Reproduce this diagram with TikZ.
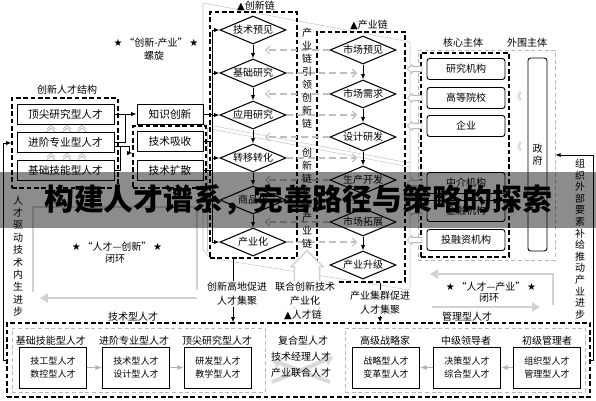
\documentclass[tikz,border=0pt]{standalone}
\usepackage{fontspec}
\setmainfont{Noto Sans CJK SC}
\newfontfamily\sym{DejaVu Sans}
\usetikzlibrary{shapes.geometric,shapes.arrows,arrows.meta,calc}
\begin{document}
\begin{tikzpicture}[x=0.75pt,y=-0.75pt,
  every node/.style={font=\fontsize{7.5}{9}\selectfont, inner sep=0pt},
  sbox/.style={draw, line width=0.7pt, minimum width=72.75pt, minimum height=15pt, font=\fontsize{8}{9}\selectfont},
  kbox/.style={draw, line width=0.7pt, minimum width=49.5pt, minimum height=15pt, font=\fontsize{8}{9}\selectfont},
  cbox/.style={draw, rounded corners=2pt, line width=0.7pt, minimum width=58.5pt, minimum height=15.75pt},
  bbox/.style={draw, line width=0.7pt, minimum width=50.25pt, minimum height=30.75pt, align=center, font=\fontsize{6.8}{9.75}\selectfont},
  dia/.style={draw, diamond, aspect=2.2, line width=0.8pt, minimum width=49.5pt, minimum height=21pt},
  bdash/.style={draw, dash pattern=on 3.5pt off 2pt, line width=0.8pt},
  gdash/.style={draw=gray!55, dash pattern=on 3pt off 2pt, line width=0.5pt},
  ln/.style={line width=0.7pt},
  arr/.style={-{Latex[length=4pt,width=3.2pt]}, line width=0.7pt},
  garr/.style={-{Latex[length=5pt,width=4pt]}, draw=gray!60, line width=1pt},
  gdarr/.style={-{Straight Barb[length=3pt,width=6pt]}, draw=gray!50, dash pattern=on 5pt off 3pt, line width=0.8pt},
  loopl/.style={draw=gray!35, line width=1.9pt},
  looparr/.style={draw=gray!35, line width=1.9pt, -{Triangle[length=6pt,width=7pt]}},
  spiral/.style={draw=gray!45, line width=0.4pt},
  lbl/.style={fill=white, inner sep=1pt, align=center, font=\fontsize{7.5}{10.5}\selectfont},
  vt/.style={align=center},
  hol/.style={single arrow, draw=gray!55, fill=white, line width=0.6pt, minimum height=11pt, minimum width=7pt, single arrow head extend=1.5pt, shape border rotate=180, inner sep=1.6pt},
  chev/.pic={\draw[gray!60, line width=0.5pt] (-4,1)--(0,-2.5)--(4,1) (-4,3.5)--(0,0)--(4,3.5);}
]
\useasboundingbox (0,0) rectangle (596,400);

% spiral
\draw[spiral] (203,3) -- (410,42) -- (410,290);
\draw[spiral] (203,3) -- (203,250) -- (210,258) -- (410,290);
\draw[spiral] (203,124) -- (410,163);
\draw[spiral] (206,128) -- (410,167);
\draw[spiral] (207,128) -- (207,252);

% top-left label
\node (spl) at (156,43) {{\sym ★}\,“创新-产业”\,{\sym ★}};
\node (spl2) at (154,56) {螺旋};

% innovation talent structure
\node (slbl) at (67,90) {创新人才结构};
\node[bdash, minimum width=79.5pt, minimum height=67.5pt] (struct) at (65,143) {};
\node[sbox] (s1) at (65.5,114) {顶尖研究型人才};
\node[sbox] (s2) at (65.5,142) {进阶专业型人才};
\node[sbox] (s3) at (65.5,170) {基础技能型人才};
\foreach \cx in {51,67,82}{\pic at (\cx,128) {chev}; \pic at (\cx,156) {chev};}

\node[kbox] (k1) at (170,114) {知识创新};
\node[bdash, minimum width=54.75pt, minimum height=46.5pt] (tech) at (169.5,157) {};
\node[kbox] (k2) at (170,141) {技术吸收};
\node[kbox] (k3) at (170,170) {技术扩散};

\coordinate (ja) at (125,0);
\coordinate (t1) at (129,146);
\coordinate (t2) at (129,153);
\coordinate (u1) at (120,170);
\draw[arr] (s1.east) -- (k1.west);
\draw[ln] (s2.east) -- (s2.east -| ja) -- (s1.east -| ja);
\draw[arr] (s2.east |- t1) -- (t1) -- (t2) -- (t2 -| tech.west);
\draw[ln] (s3.east) -- (u1) -- (u1 |- t1);

% innovation chain
\node[bdash, minimum width=65.25pt, minimum height=184.5pt] (innov) at (253.5,135) {};
\node (innovl) at (256,6) {{\sym ▲}创新链};
\node[dia] (i1) at (253,30) {技术预见};
\node[dia] (i2) at (253,73) {基础研究};
\node[dia] (i3) at (253,115) {应用研究};
\node[dia] (i4) at (253,158) {转移转化};
\node[dia] (i5) at (253,200) {商品化};
\node[dia] (i6) at (253,242) {产业化};
\coordinate (bx) at (212,0);
\draw[ln] (i1.west -| bx) -- (i6.west -| bx);
\foreach \n in {1,...,6}{\draw[arr] (i\n.west -| bx) -- (i\n.west);}
\draw[ln] (k1.east) -- (k1.east -| bx);
\draw[ln] (k2.east) -- (k2.east -| bx);
\draw[ln] (k3.east) -- (k3.east -| bx);
\draw[arr] (i1.south) -- (i2.north);
\draw[arr] (i2.south) -- (i3.north);
\draw[arr] (i3.south) -- (i4.north);
\draw[arr] (i4.south) -- (i5.north);
\draw[arr] (i5.south) -- (i6.north);

% industry chain
\node[bdash, minimum width=66pt, minimum height=187.5pt] (indus) at (361,157) {};
\node (indusl) at (369,25) {{\sym ▲}产业链};
\node[dia] (m1) at (363,50) {市场预见};
\node[dia] (m2) at (363,94) {市场需求};
\node[dia] (m3) at (363,137) {设计研发};
\node[dia] (m4) at (363,180) {生产开发};
\node[dia] (m5) at (363,222) {市场拓展};
\node[dia] (m6) at (363,265) {产业升级};
\draw[arr] (m1.south) -- (m2.north);
\draw[arr] (m2.south) -- (m3.north);
\draw[arr] (m3.south) -- (m4.north);
\draw[arr] (m4.south) -- (m5.north);
\draw[arr] (m5.south) -- (m6.north);

\coordinate (lx2) at (265,0);
\coordinate (rx2) at (357,0);
\foreach \n in {1,...,5}{\draw[gdarr] (m\n.west) -- (m\n.west -| lx2);}
\foreach \n in {2,...,6}{\draw[gdarr] (i\n.east) -- (i\n.east -| rx2);}

\node[vt, font=\fontsize{7.5}{9.7}\selectfont] (v1) at (307,78) {产\\业\\链\\引\\领\\创\\新\\链};
\node[vt, font=\fontsize{7.5}{9.7}\selectfont] (v2) at (307,198) {创\\新\\链\\支\\撑\\产\\业\\链};

% right side subjects
\node (corel) at (463,43) {核心主体};
\node (peril) at (527,43) {外围主体};
\node[gdash, minimum width=102.75pt, minimum height=157.5pt] (peri) at (486.5,155) {};
\node[bdash, minimum width=66pt, minimum height=153pt] (core) at (465,155) {};
\node[cbox] (c1) at (466,69) {研究机构};
\node[cbox] (c2) at (466,98) {高等院校};
\node[cbox] (c3) at (466,126) {企业};
\node[cbox] (c4) at (466,183) {中介机构};
\node[cbox] (c5) at (466,211) {金融机构};
\node[cbox] (c6) at (466,240) {投融资机构};
\node[hol] (h1) at (416,69) {};
\node[hol] (h2) at (416,98) {};
\node[hol] (h3) at (416,126) {};
\node[hol] (h4) at (416,183) {};
\node[hol] (h5) at (416,211) {};
\node[hol] (h6) at (416,240) {};
\node[text=gray!60] (q1) at (517,97) {《};
\node[text=gray!60] (q2) at (517,147) {《};
\node[draw, rounded corners=2pt, line width=0.7pt, minimum width=14.25pt, minimum height=144.75pt, align=center] (gov) at (537.5,154.5) {政\\府};
\node[vt, font=\fontsize{7.5}{8.7}\selectfont] (rv) at (580,239) {组\\织\\外\\部\\要\\素\\补\\给\\推\\动\\产\\业\\进\\步};

% loops
\draw[loopl] (33,292) -- (33,207) -- (197,207) -- (197,290);
\draw[looparr] (197,298) -- (40,298);
\node (lp1) at (117,247) {{\sym ★}\,“人才—创新”\,{\sym ★}};
\node (lp1b) at (115,259) {闭环};
\draw[looparr] (553,305) -- (553,274) -- (430,274);
\draw[looparr] (432,307) -- (540,307);
\node (lp2) at (491,287) {{\sym ★}\,“人才—产业”\,{\sym ★}};
\node (lp2b) at (489,298) {闭环};

\node[vt, font=\fontsize{7.5}{9.3}\selectfont] (lv) at (18,256) {人\\才\\驱\\动\\技\\术\\内\\生\\进\\步};

% bottom
\node[bdash, minimum width=437.25pt, minimum height=55.5pt] (bot) at (298.5,360) {};
\node (botl1) at (133,317) {技术型人才};
\node (botl2) at (467,317) {管理型人才};
\node[gdash, minimum width=189.75pt, minimum height=48pt] (tg) at (138.5,360) {};
\node[gdash, minimum width=180pt, minimum height=48pt] (mg) at (465,360) {};
\node (tl1) at (51,341) {基础技能型人才};
\node (tl2) at (134,341) {进阶专业型人才};
\node (tl3) at (217,341) {顶尖研究型人才};
\node (ml1) at (385,341) {高级战略家};
\node (ml2) at (466,341) {中级领导者};
\node (ml3) at (547,341) {初级管理者};
\node[bbox] (b1) at (53,367.5) {技工型人才\\数控型人才};
\node[bbox] (b2) at (136,367.5) {技术型人才\\设计型人才};
\node[bbox] (b3) at (218,367.5) {研发型人才\\教学型人才};
\node[bbox] (b4) at (386,367.5) {战略型人才\\变革型人才};
\node[bbox] (b5) at (467,367.5) {决策型人才\\综合型人才};
\node[bbox] (b6) at (547,367.5) {组织型人才\\管理型人才};
\draw[garr] (b1.east) -- (b2.west);
\draw[garr] (b2.east) -- (b3.west);
\draw[garr] (b6.west) -- (b5.east);
\draw[garr] (b5.west) -- (b4.east);

\draw[draw=gray!30, line width=3pt, -{Triangle[length=6pt,width=9pt]}] (330,382) -- (272,360);
\draw[draw=gray!30, line width=3pt, -{Triangle[length=6pt,width=9pt]}] (272,382) -- (333,357);
\node (cl) at (303,341) {复合型人才};
\node (cl1) at (301,357) {技术经理人才};
\node (cl2) at (301,373) {产业联合人才};

% links from chains down
\coordinate (dx1) at (233,0);
\coordinate (dx2) at (380,0);
\draw[arr] (innov.south -| dx1) -- (bot.north -| dx1);
\draw[arr] (indus.south -| dx2) -- (bot.north -| dx2);
\node[single arrow, draw=gray!35, fill=white, line width=1pt, shape border rotate=90, minimum height=49.5pt, minimum width=24pt, inner sep=7pt, single arrow head extend=2pt] (tarrow) at (307,290) {};
\node[lbl] (n1) at (237,294) {创新高地促进\\人才集聚};
\node[lbl] (n2) at (305,294) {联合创新技术\\产业化};
\node[lbl] (n3) at (380,303) {产业集群促进\\人才集聚};
\node[fill=white, inner sep=1pt] (n4) at (303,315) {{\sym ▲}人才链};

% left long connector & right long connector
\coordinate (lx) at (3.5,0);
\draw[arr] (bot.west) -- (bot.west -| lx) -- (lx |- struct.west) -- (struct.west);
\coordinate (rx) at (593.5,0);
\draw[arr] (bot.east) -- (bot.east -| rx) -- (rx |- peri.east) -- (peri.east);

% banner
\fill[black, opacity=0.45] (0,172) rectangle (596,228);
\node[font=\bfseries\fontsize{22.4}{24}\selectfont] (title) at (298,200) {构建人才谱系，完善路径与策略的探索};
\end{tikzpicture}
\end{document}
